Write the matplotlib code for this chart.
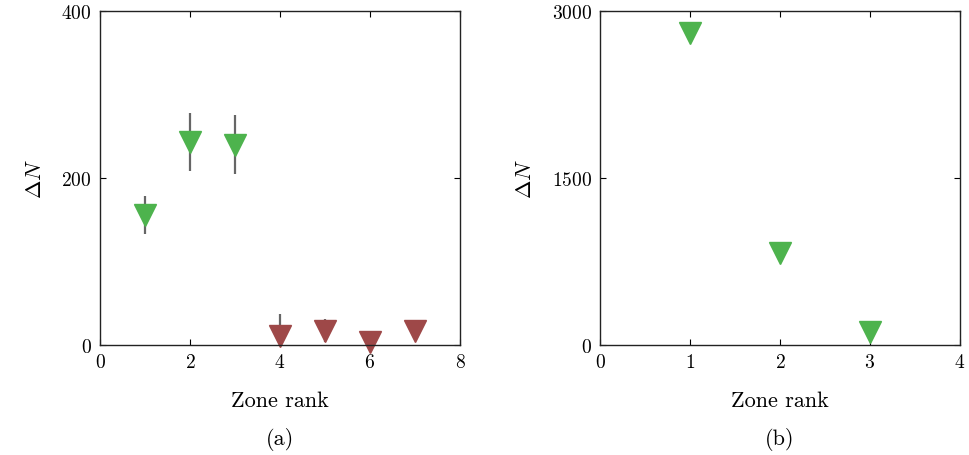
import numpy as np
import matplotlib
matplotlib.use("Agg")
import matplotlib.pyplot as plt

plt.rcParams['font.family'] = 'serif'
plt.rcParams['font.serif'] = ['cmr10', 'DejaVu Serif']
plt.rcParams['mathtext.fontset'] = 'cm'
plt.rcParams['axes.formatter.use_mathtext'] = True

# panel (a): change in N per zone rank
rank_a = [1, 2, 3, 4, 5, 6, 7]
dN_a = [156, 243, 240, 11, 17, 4, 17]
err_a = [23, 35, 35, 26, 14, 3, 4]
grow_a = [True, True, True, False, False, False, False]

# panel (b)
rank_b = [1, 2, 3]
dN_b = [2803, 826, 121]

green = '#4db34d'
brown = '#9e4848'

fig = plt.figure(figsize=(9.7, 4.56), dpi=100)
ax1 = fig.add_axes([100/970, 1-346/456, 360/970, 334/456])
ax2 = fig.add_axes([600/970, 1-346/456, 360/970, 334/456])

ax1.errorbar(rank_a, dN_a, yerr=err_a, fmt='none', ecolor='#666666', elinewidth=1.6, zorder=1)
cols = [green if g else brown for g in grow_a]
for x, y, c in zip(rank_a, dN_a, cols):
    ax1.plot(x, y, marker='v', color=c, markersize=16, linestyle='none', zorder=2, clip_on=False)
ax1.set_xlim(0, 8)
ax1.set_ylim(0, 400)
ax1.set_xticks([0, 2, 4, 6, 8])
ax1.set_yticks([0, 200, 400])

ax2.plot(rank_b, dN_b, marker='v', color=green, markersize=16, linestyle='none', clip_on=False)
ax2.set_xlim(0, 4)
ax2.set_ylim(0, 3000)
ax2.set_xticks([0, 1, 2, 3, 4])
ax2.set_yticks([0, 1500, 3000])

for ax, tag in [(ax1, '(a)'), (ax2, '(b)')]:
    ax.tick_params(direction='in', top=True, right=True, length=4, width=0.8, labelsize=14, pad=6)
    for s in ax.spines.values():
        s.set_linewidth(1.0)
        s.set_color('#222222')
    ax.set_xlabel('Zone rank', fontsize=16, labelpad=14)
    ax.set_ylabel(r'$\Delta N$', fontsize=16, labelpad=12)
    ax.text(0.5, -0.245, tag, transform=ax.transAxes, ha='center', va='top', fontsize=16)

fig.savefig('out.png', dpi=100)
